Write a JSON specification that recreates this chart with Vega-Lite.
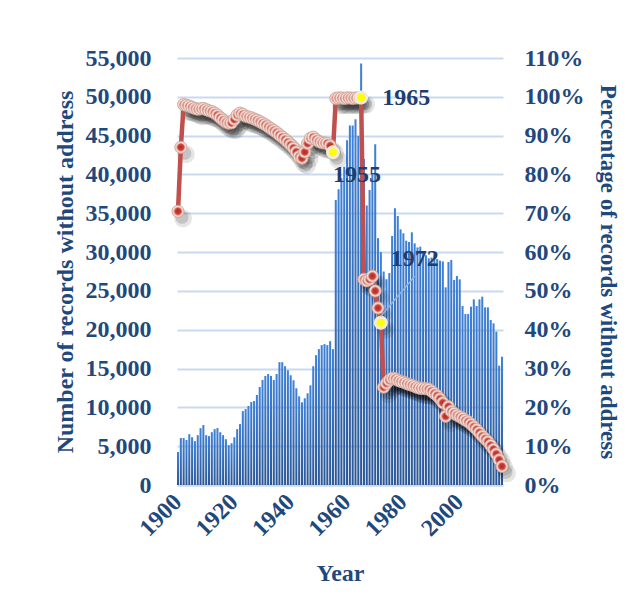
{
  "$schema": "https://vega.github.io/schema/vega-lite/v6.json",
  "width": 326,
  "height": 427,
  "autosize": {"type": "none"},
  "padding": {"left": 177, "top": 58, "right": 126, "bottom": 131},
  "background": "white",
  "config": {"view": {"stroke": null}, "font": "Liberation Serif"},
  "data": {"values": [
    {"Year":1900,"n":4250,"pct":70.5},{"Year":1901,"n":6050,"pct":87.0},{"Year":1902,"n":6050,"pct":98.0},{"Year":1903,"n":5800,"pct":97.8},
    {"Year":1904,"n":6550,"pct":97.6},{"Year":1905,"n":6150,"pct":97.3},{"Year":1906,"n":5650,"pct":97.0},{"Year":1907,"n":6420,"pct":96.8},
    {"Year":1908,"n":7320,"pct":96.9},{"Year":1909,"n":7720,"pct":97.0},{"Year":1910,"n":6420,"pct":96.7},{"Year":1911,"n":6300,"pct":96.4},
    {"Year":1912,"n":6800,"pct":96.2},{"Year":1913,"n":7200,"pct":95.8},{"Year":1914,"n":7330,"pct":95.3},{"Year":1915,"n":6800,"pct":94.6},
    {"Year":1916,"n":6420,"pct":94.0},{"Year":1917,"n":5900,"pct":93.5},{"Year":1918,"n":5130,"pct":93.2},{"Year":1919,"n":5380,"pct":93.3},
    {"Year":1920,"n":6150,"pct":94.2},{"Year":1921,"n":7200,"pct":95.3},{"Year":1922,"n":7850,"pct":95.8},{"Year":1923,"n":9520,"pct":95.5},
    {"Year":1924,"n":9780,"pct":95.0},{"Year":1925,"n":10170,"pct":94.8},{"Year":1926,"n":10690,"pct":94.6},{"Year":1927,"n":10820,"pct":94.3},
    {"Year":1928,"n":11600,"pct":94.0},{"Year":1929,"n":12630,"pct":93.6},{"Year":1930,"n":13530,"pct":93.2},{"Year":1931,"n":14050,"pct":92.8},
    {"Year":1932,"n":14300,"pct":92.3},{"Year":1933,"n":14050,"pct":91.8},{"Year":1934,"n":13530,"pct":91.3},{"Year":1935,"n":14300,"pct":90.8},
    {"Year":1936,"n":15820,"pct":90.2},{"Year":1937,"n":15820,"pct":89.6},{"Year":1938,"n":15300,"pct":89.0},{"Year":1939,"n":14780,"pct":88.3},
    {"Year":1940,"n":14140,"pct":87.6},{"Year":1941,"n":13490,"pct":86.8},{"Year":1942,"n":12460,"pct":85.8},{"Year":1943,"n":11420,"pct":84.6},
    {"Year":1944,"n":10650,"pct":84.2},{"Year":1945,"n":11160,"pct":85.8},{"Year":1946,"n":11810,"pct":88.0},{"Year":1947,"n":12840,"pct":89.3},
    {"Year":1948,"n":15300,"pct":89.6},{"Year":1949,"n":16720,"pct":89.0},{"Year":1950,"n":17500,"pct":88.5},{"Year":1951,"n":18020,"pct":88.2},
    {"Year":1952,"n":18150,"pct":88.1},{"Year":1953,"n":18020,"pct":88.0},{"Year":1954,"n":18530,"pct":87.4},{"Year":1955,"n":17500,"pct":85.7,"label":"1955"},
    {"Year":1956,"n":36700,"pct":99.6},{"Year":1957,"n":38100,"pct":99.7},{"Year":1958,"n":39500,"pct":99.7},{"Year":1959,"n":41000,"pct":99.6},
    {"Year":1960,"n":44400,"pct":99.7},{"Year":1961,"n":46300,"pct":99.7},{"Year":1962,"n":46300,"pct":99.6},{"Year":1963,"n":47100,"pct":99.7},
    {"Year":1964,"n":45000,"pct":99.7},{"Year":1965,"n":54300,"pct":99.8,"label":"1965"},{"Year":1966,"n":42000,"pct":53.0},{"Year":1967,"n":36000,"pct":52.6},
    {"Year":1968,"n":38000,"pct":53.0},{"Year":1969,"n":40000,"pct":53.8},{"Year":1970,"n":43900,"pct":50.0},{"Year":1971,"n":31800,"pct":45.6},
    {"Year":1972,"n":30000,"pct":41.8,"label":"1972"},{"Year":1973,"n":27500,"pct":25.2},{"Year":1974,"n":26500,"pct":26.2},{"Year":1975,"n":27300,"pct":27.0},
    {"Year":1976,"n":32070,"pct":27.5},{"Year":1977,"n":35650,"pct":27.4},{"Year":1978,"n":34650,"pct":27.0},{"Year":1979,"n":32930,"pct":26.7},
    {"Year":1980,"n":32420,"pct":26.5},{"Year":1981,"n":31470,"pct":26.2},{"Year":1982,"n":31300,"pct":25.9},{"Year":1983,"n":32550,"pct":25.7},
    {"Year":1984,"n":31130,"pct":25.4},{"Year":1985,"n":30600,"pct":25.1},{"Year":1986,"n":30700,"pct":24.9},{"Year":1987,"n":30000,"pct":24.9},
    {"Year":1988,"n":29600,"pct":24.8},{"Year":1989,"n":29200,"pct":24.7},{"Year":1990,"n":29300,"pct":24.2},{"Year":1991,"n":29800,"pct":23.6},
    {"Year":1992,"n":29100,"pct":23.0},{"Year":1993,"n":28900,"pct":22.2},{"Year":1994,"n":28800,"pct":21.2},{"Year":1995,"n":25460,"pct":17.7},
    {"Year":1996,"n":28720,"pct":20.2},{"Year":1997,"n":28980,"pct":19.0},{"Year":1998,"n":26400,"pct":18.5},{"Year":1999,"n":26920,"pct":18.0},
    {"Year":2000,"n":26490,"pct":17.6},{"Year":2001,"n":23060,"pct":17.2},{"Year":2002,"n":22020,"pct":16.7},{"Year":2003,"n":22020,"pct":16.3},
    {"Year":2004,"n":22970,"pct":15.7},{"Year":2005,"n":23910,"pct":15.0},{"Year":2006,"n":23060,"pct":14.3},{"Year":2007,"n":23910,"pct":13.5},
    {"Year":2008,"n":24260,"pct":12.6},{"Year":2009,"n":22880,"pct":11.9},{"Year":2010,"n":22880,"pct":11.2},{"Year":2011,"n":21250,"pct":10.2},
    {"Year":2012,"n":20820,"pct":9.2},{"Year":2013,"n":19750,"pct":8.0},{"Year":2014,"n":15370,"pct":6.5},{"Year":2015,"n":16530,"pct":4.8}
  ]},
  "layer": [
    {
      "mark": {"type": "bar", "color": {"gradient": "linear", "x1": 0, "y1": 0, "x2": 0, "y2": 1, "stops": [{"offset": 0, "color": "#3f82d8"}, {"offset": 1, "color": "#2b5796"}]}},
      "encoding": {
        "x": {"field": "Year", "type": "ordinal", "scale": {"paddingInner": 0.28, "paddingOuter": 0},
          "axis": {"values": [1900, 1920, 1940, 1960, 1980, 2000], "labelAngle": -45, "labelAlign": "right", "labelBaseline": "middle",
            "labelPadding": 13, "labelFont": "Liberation Serif", "labelFontSize": 24, "labelFontWeight": "bold", "labelColor": "#1f497d",
            "ticks": false, "domain": true, "domainColor": "#c9daf0", "domainWidth": 2, "grid": false,
            "title": "Year", "titleFont": "Liberation Serif", "titleFontSize": 24, "titleFontWeight": "bold", "titleColor": "#1f497d", "titlePadding": 21}},
        "y": {"field": "n", "type": "quantitative", "scale": {"domain": [0, 55000], "nice": false},
          "axis": {"values": [0, 5000, 10000, 15000, 20000, 25000, 30000, 35000, 40000, 45000, 50000, 55000], "format": ",.0f",
            "grid": true, "gridColor": "#c9daf0", "gridWidth": 2, "domain": false, "ticks": false, "labelPadding": 26,
            "labelFont": "Liberation Serif", "labelFontSize": 24, "labelFontWeight": "bold", "labelColor": "#1f497d",
            "title": "Number of records without address", "titleFont": "Liberation Serif", "titleFontSize": 24, "titleFontWeight": "bold",
            "titleColor": "#1f497d", "titlePadding": 8}}
      }
    },
    {
      "encoding": {
        "x": {"field": "Year", "type": "ordinal"},
        "y": {"field": "pct", "type": "quantitative", "scale": {"domain": [0, 110], "nice": false},
          "axis": {"orient": "right", "values": [0, 10, 20, 30, 40, 50, 60, 70, 80, 90, 100, 110], "labelExpr": "datum.value + '%'",
            "grid": false, "domain": false, "ticks": false, "labelPadding": 21,
            "labelFont": "Liberation Serif", "labelFontSize": 24, "labelFontWeight": "bold", "labelColor": "#1f497d",
            "title": "Percentage of records without address", "titleFont": "Liberation Serif", "titleFontSize": 23, "titleFontWeight": "bold",
            "titleColor": "#1f497d", "titlePadding": 11}}
      },
      "layer": [
        {"mark": {"type": "point", "filled": true, "color": "#000000", "opacity": 0.1, "size": 320, "xOffset": 5, "yOffset": 7}},
        {"mark": {"type": "point", "filled": true, "color": "#000000", "opacity": 0.14, "size": 170, "xOffset": 4, "yOffset": 6}},
        {"mark": {"type": "line", "color": "#c0504d", "strokeWidth": 4.5}},
        {"mark": {"type": "point", "filled": true, "size": 150, "stroke": "#cfa59a", "strokeWidth": 0.8, "opacity": 1,
          "fill": {"gradient": "radial", "x1": 0.5, "y1": 0.5, "r1": 0, "x2": 0.5, "y2": 0.5, "r2": 0.5,
            "stops": [{"offset": 0, "color": "#b52a25"}, {"offset": 0.45, "color": "#c83c36"}, {"offset": 0.6, "color": "#d9716a"}, {"offset": 0.7, "color": "#f4d2ca"}, {"offset": 0.88, "color": "#f6e1d9"}, {"offset": 1, "color": "#d9ada2"}]}}},
        {"transform": [{"filter": "datum.label"}],
          "mark": {"type": "point", "filled": true, "size": 120, "fill": "#ffff00", "stroke": "#f3ead8", "strokeWidth": 3, "opacity": 1}},
        {"transform": [{"filter": "datum.label == '1955'"}],
          "mark": {"type": "text", "dx": 24, "dy": 23, "align": "center", "baseline": "middle", "font": "Liberation Serif", "fontSize": 24, "fontWeight": "bold", "color": "#1f3d6e"},
          "encoding": {"text": {"field": "label"}}},
        {"transform": [{"filter": "datum.label == '1965'"}],
          "mark": {"type": "text", "dx": 45, "dy": 0, "align": "center", "baseline": "middle", "font": "Liberation Serif", "fontSize": 24, "fontWeight": "bold", "color": "#1f3d6e"},
          "encoding": {"text": {"field": "label"}}},
        {"transform": [{"filter": "datum.label == '1972'"}],
          "mark": {"type": "text", "dx": 34, "dy": -64, "align": "center", "baseline": "middle", "font": "Liberation Serif", "fontSize": 24, "fontWeight": "bold", "color": "#1f3d6e"},
          "encoding": {"text": {"field": "label"}}},
        {"data": {"values": [{"Year": 1972, "pct": 43.5}, {"Year": 1984, "pct": 53.8}]},
          "mark": {"type": "line", "color": "#8db3e2", "strokeWidth": 1.5}}
      ]
    }
  ],
  "resolve": {"scale": {"y": "independent"}}
}
